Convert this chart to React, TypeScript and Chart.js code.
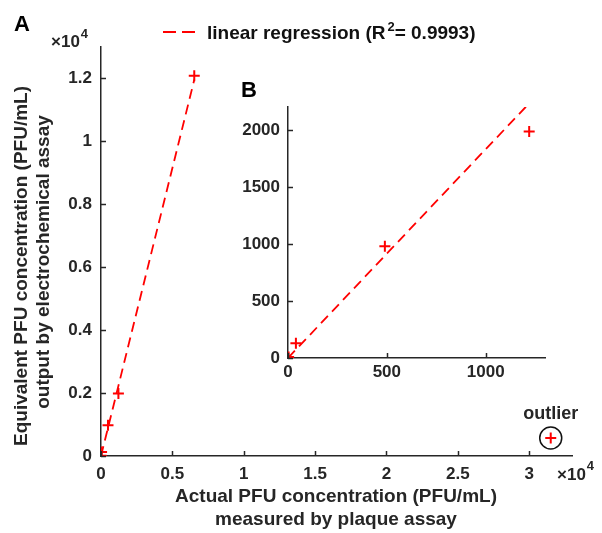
import React, { useEffect, useRef } from 'react';
import { Chart, registerables } from 'chart.js';

Chart.register(...registerables);

// ---- data ----
const measuredX = [0, 3, 40, 490, 1220, 6534];
const outputY = [0, 8, 130, 980, 1985, 12090];
const outlierX = [31510];
const outlierY = [573];
const regressionX = [0, 6540];
const regressionY = [0, 11968];
const mainXTicks = [0, 5000, 10000, 15000, 20000, 25000, 30000];
const mainYTicks = [0, 2000, 4000, 6000, 8000, 10000, 12000];
const insetXTicks = [0, 500, 1000];
const insetYTicks = [0, 500, 1000, 1500, 2000];
const xTitle = ['Actual PFU concentration (PFU/mL)', 'measured by plaque assay'];
const yTitle = ['Equivalent PFU concentration (PFU/mL)', 'output by electrochemical assay'];
const legendParts = ['linear regression (R', '2', '= 0.9993)'];

const TEXT = '#262626';
const RED = '#ff0000';
const FONT = '"Liberation Sans", Arial, sans-serif';
const f = (size: number) => `bold ${size}px ${FONT}`;

function toPoints(xs: number[], ys: number[]) {
  return xs.map((x, i) => ({ x, y: ys[i] }));
}

function drawInwardTicks(chart: any, len: number) {
  const { ctx, chartArea, scales } = chart;
  ctx.save();
  ctx.strokeStyle = TEXT;
  ctx.lineWidth = 1.5;
  scales.x.ticks.forEach((t: any) => {
    const px = Math.round(scales.x.getPixelForValue(t.value)) + 0.5;
    ctx.beginPath();
    ctx.moveTo(px, chartArea.bottom);
    ctx.lineTo(px, chartArea.bottom - len);
    ctx.stroke();
  });
  scales.y.ticks.forEach((t: any) => {
    const py = Math.round(scales.y.getPixelForValue(t.value)) + 0.5;
    ctx.beginPath();
    ctx.moveTo(chartArea.left, py);
    ctx.lineTo(chartArea.left + len, py);
    ctx.stroke();
  });
  ctx.restore();
}

function drawTimes10(ctx: CanvasRenderingContext2D, x: number, baseline: number, supBaseline: number) {
  ctx.font = f(17);
  ctx.textAlign = 'left';
  ctx.textBaseline = 'alphabetic';
  ctx.fillText('\u00d710', x, baseline);
  const w = ctx.measureText('\u00d710').width;
  ctx.font = f(13);
  ctx.fillText('4', x + w + 1, supBaseline);
}

const mainPlugin = {
  id: 'mainDecor',
  afterDraw(chart: any) {
    const { ctx, scales } = chart;
    drawInwardTicks(chart, 5);
    ctx.save();
    ctx.fillStyle = TEXT;

    // axis titles
    ctx.font = f(19);
    ctx.textAlign = 'center';
    ctx.textBaseline = 'middle';
    ctx.fillText(xTitle[0], 336, 497);
    ctx.fillText(xTitle[1], 336, 520);
    ctx.save();
    ctx.translate(22, 266);
    ctx.rotate(-Math.PI / 2);
    ctx.fillText(yTitle[0], 0, 0);
    ctx.restore();
    ctx.save();
    ctx.translate(44, 262);
    ctx.rotate(-Math.PI / 2);
    ctx.fillText(yTitle[1], 0, 0);
    ctx.restore();

    // panel letters
    ctx.textAlign = 'left';
    ctx.textBaseline = 'alphabetic';
    ctx.font = f(22);
    ctx.fillStyle = '#000';
    ctx.fillText('A', 14, 31);
    ctx.fillText('B', 241, 97);
    ctx.fillStyle = TEXT;

    // x10^4 exponents
    drawTimes10(ctx, 51, 47, 38);
    drawTimes10(ctx, 557, 480, 470);

    // legend
    ctx.strokeStyle = RED;
    ctx.lineWidth = 2;
    ctx.setLineDash([13, 6]);
    ctx.beginPath();
    ctx.moveTo(163, 32);
    ctx.lineTo(197, 32);
    ctx.stroke();
    ctx.setLineDash([]);
    ctx.fillStyle = '#111';
    let lx = 207;
    ctx.font = f(19);
    ctx.fillText(legendParts[0], lx, 39);
    lx += ctx.measureText(legendParts[0]).width + 2;
    ctx.font = f(13);
    ctx.fillText(legendParts[1], lx, 31);
    lx += ctx.measureText(legendParts[1]).width;
    ctx.font = f(19);
    ctx.fillText(legendParts[2], lx, 39);

    // outlier annotation
    const ox = scales.x.getPixelForValue(outlierX[0]);
    const oy = scales.y.getPixelForValue(outlierY[0]);
    ctx.strokeStyle = '#111';
    ctx.lineWidth = 1.5;
    ctx.beginPath();
    ctx.arc(ox, oy, 11, 0, Math.PI * 2);
    ctx.stroke();
    ctx.fillStyle = TEXT;
    ctx.font = f(18);
    ctx.textAlign = 'center';
    ctx.fillText('outlier', ox, 419);
    ctx.restore();
  },
};

const insetPlugin = {
  id: 'insetDecor',
  afterDraw(chart: any) {
    drawInwardTicks(chart, 5);
  },
};

function tickFont() {
  return { family: FONT, size: 17, weight: 'bold' as const };
}

function fmt(v: number) {
  return String(+v.toFixed(2));
}

export default function App() {
  const mainRef = useRef<HTMLCanvasElement>(null);
  const insetRef = useRef<HTMLCanvasElement>(null);

  useEffect(() => {
    const markerStyle = {
      pointStyle: 'cross' as const,
      pointRadius: 5.5,
      pointBorderWidth: 2,
      borderColor: RED,
      backgroundColor: RED,
      showLine: false,
    };
    const regression = {
      type: 'line' as const,
      label: 'linear regression',
      data: toPoints(regressionX, regressionY),
      borderColor: RED,
      borderWidth: 1.8,
      borderDash: [10, 6],
      pointRadius: 0,
      fill: false,
      showLine: true,
    };

    const main = new Chart(mainRef.current!, {
      type: 'scatter',
      data: {
        datasets: [
          regression as any,
          { label: 'measurements', data: toPoints(measuredX, outputY), ...markerStyle },
          { label: 'outlier', data: toPoints(outlierX, outlierY), ...markerStyle },
        ],
      },
      options: {
        responsive: false,
        animation: false,
        layout: { padding: { top: 47, right: 30, left: 0, bottom: 0 } },
        plugins: { legend: { display: false }, tooltip: { enabled: false } },
        scales: {
          x: {
            type: 'linear',
            min: 0,
            max: 33000,
            afterBuildTicks: (s: any) => {
              s.ticks = mainXTicks.map((v) => ({ value: v }));
            },
            afterFit: (s: any) => {
              s.height = 77;
            },
            grid: { display: false, drawTicks: false },
            border: { display: true, color: TEXT, width: 1.5 },
            ticks: {
              color: TEXT,
              font: tickFont(),
              padding: 8,
              maxRotation: 0,
              autoSkip: false,
              callback: (v: any) => fmt(v / 1e4),
            },
          },
          y: {
            type: 'linear',
            min: 0,
            max: 13000,
            afterBuildTicks: (s: any) => {
              s.ticks = mainYTicks.map((v) => ({ value: v }));
            },
            afterFit: (s: any) => {
              s.width = 101;
            },
            grid: { display: false, drawTicks: false },
            border: { display: true, color: TEXT, width: 1.5 },
            ticks: {
              color: TEXT,
              font: tickFont(),
              padding: 9,
              autoSkip: false,
              callback: (v: any) => fmt(v / 1e4),
            },
          },
        },
      },
      plugins: [mainPlugin],
    });

    const inset = new Chart(insetRef.current!, {
      type: 'scatter',
      data: {
        datasets: [
          { ...(regression as any) },
          { label: 'measurements', data: toPoints(measuredX, outputY), ...markerStyle },
        ],
      },
      options: {
        responsive: false,
        animation: false,
        layout: { padding: { top: 27, right: 15, left: 0, bottom: 0 } },
        plugins: { legend: { display: false }, tooltip: { enabled: false } },
        scales: {
          x: {
            type: 'linear',
            min: 0,
            max: 1300,
            afterBuildTicks: (s: any) => {
              s.ticks = insetXTicks.map((v) => ({ value: v }));
            },
            afterFit: (s: any) => {
              s.height = 52;
            },
            grid: { display: false, drawTicks: false },
            border: { display: true, color: TEXT, width: 1.5 },
            ticks: {
              color: TEXT,
              font: tickFont(),
              padding: 4,
              maxRotation: 0,
              autoSkip: false,
              callback: (v: any) => String(v),
            },
          },
          y: {
            type: 'linear',
            min: 0,
            max: 2200,
            afterBuildTicks: (s: any) => {
              s.ticks = insetYTicks.map((v) => ({ value: v }));
            },
            afterFit: (s: any) => {
              s.width = 58;
            },
            grid: { display: false, drawTicks: false },
            border: { display: true, color: TEXT, width: 1.5 },
            ticks: {
              color: TEXT,
              font: tickFont(),
              padding: 8,
              autoSkip: false,
              callback: (v: any) => String(v),
            },
          },
        },
      },
      plugins: [insetPlugin],
    });

    return () => {
      main.destroy();
      inset.destroy();
    };
  }, []);

  return (
    <div style={{ position: 'fixed', left: 0, top: 0, width: 602, height: 533, background: '#fff' }}>
      <canvas ref={mainRef} width={602} height={533} style={{ position: 'absolute', left: 0, top: 0 }} />
      <canvas ref={insetRef} width={330} height={330} style={{ position: 'absolute', left: 230, top: 80 }} />
    </div>
  );
}
